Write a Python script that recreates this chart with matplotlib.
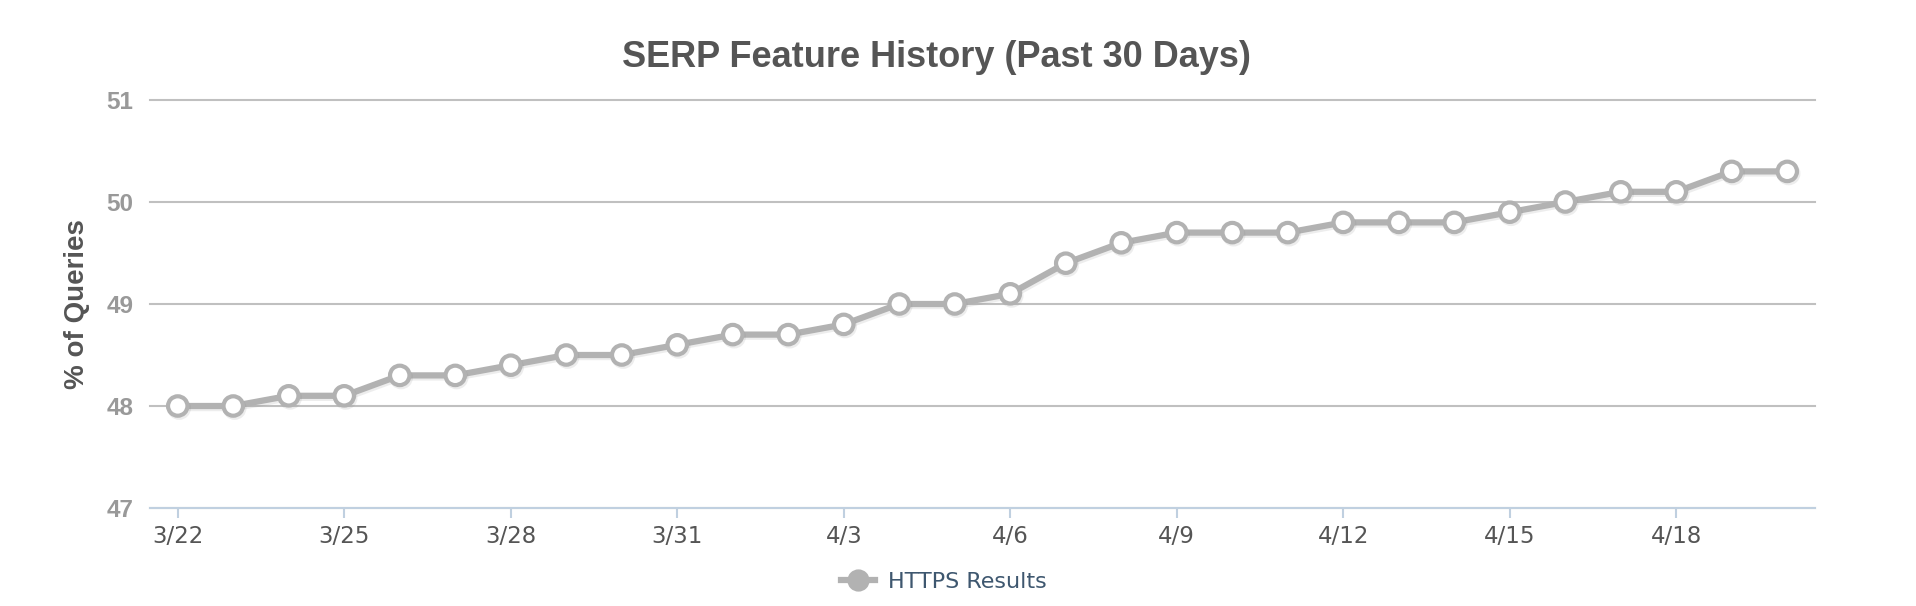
import matplotlib.pyplot as plt
import matplotlib.patheffects as pe

# daily values
dates = ['3/22', '3/23', '3/24', '3/25', '3/26', '3/27', '3/28', '3/29', '3/30', '3/31',
         '4/1', '4/2', '4/3', '4/4', '4/5', '4/6', '4/7', '4/8', '4/9', '4/10',
         '4/11', '4/12', '4/13', '4/14', '4/15', '4/16', '4/17', '4/18', '4/19', '4/20']
https_results = [48.0, 48.0, 48.1, 48.1, 48.3, 48.3, 48.4, 48.5, 48.5, 48.6,
                 48.7, 48.7, 48.8, 49.0, 49.0, 49.1, 49.4, 49.6, 49.7, 49.7,
                 49.7, 49.8, 49.8, 49.8, 49.9, 50.0, 50.1, 50.1, 50.3, 50.3]
y_ticks = [47, 48, 49, 50, 51]

plt.rcParams['font.family'] = ['Liberation Sans', 'DejaVu Sans']

fig = plt.figure(figsize=(19.16, 6.06), dpi=100)
ax = fig.add_axes([150 / 1916, 1 - 508 / 606, (1815 - 150) / 1916, (508 - 100) / 606])

x = list(range(len(dates)))
ax.plot(x, https_results, color='#B2B2B2', lw=4.5, marker='o', ms=14,
        mfc='white', mec='#B2B2B2', mew=3, zorder=3,
        path_effects=[pe.SimpleLineShadow(offset=(1, -1.5), shadow_color='#888888', alpha=0.15),
                      pe.Normal()])

ax.set_xlim(-0.5, len(dates) - 0.5)
ax.set_ylim(47, 51)
ax.set_yticks(y_ticks)
ax.set_xticks(x[::3])
ax.set_xticklabels(dates[::3], family='DejaVu Sans', fontsize=16.5, color='#555555')
ax.set_yticklabels([str(v) for v in y_ticks], fontsize=17.5, fontweight='bold', color='#999999')

ax.grid(axis='y', color='#C0C0C0', lw=1.5)
for gl in ax.get_ygridlines():
    gl.set_clip_on(False)
ax.set_axisbelow(True)
for s in ['top', 'right', 'left']:
    ax.spines[s].set_visible(False)
ax.spines['bottom'].set_color('#C0D0E0')
ax.spines['bottom'].set_linewidth(1.5)
ax.spines['bottom'].set_zorder(2)
ax.tick_params(axis='x', color='#C0D0E0', length=7, width=1.5, pad=5)
ax.tick_params(axis='y', length=0, pad=12)

ax.set_ylabel('% of Queries', fontsize=20, fontweight='bold', color='#555555', labelpad=12)
fig.text(0.489, 1 - 67 / 606, 'SERP Feature History (Past 30 Days)', ha='center', va='baseline',
         fontsize=26, fontweight='bold', color='#555555')

leg = ax.legend(['HTTPS Results'], loc='center', bbox_to_anchor=(0.4927, 1 - 582 / 606),
                bbox_transform=fig.transFigure, frameon=False, handlelength=1.5,
                handletextpad=0.6, prop={'family': 'DejaVu Sans', 'size': 16})
for t in leg.get_texts():
    t.set_color('#3E576F')
h = leg.legend_handles[0]
h.set_markerfacecolor('#B2B2B2')
h.set_markersize(13)
h.set_path_effects([])

fig.savefig('out.png', dpi=100)
